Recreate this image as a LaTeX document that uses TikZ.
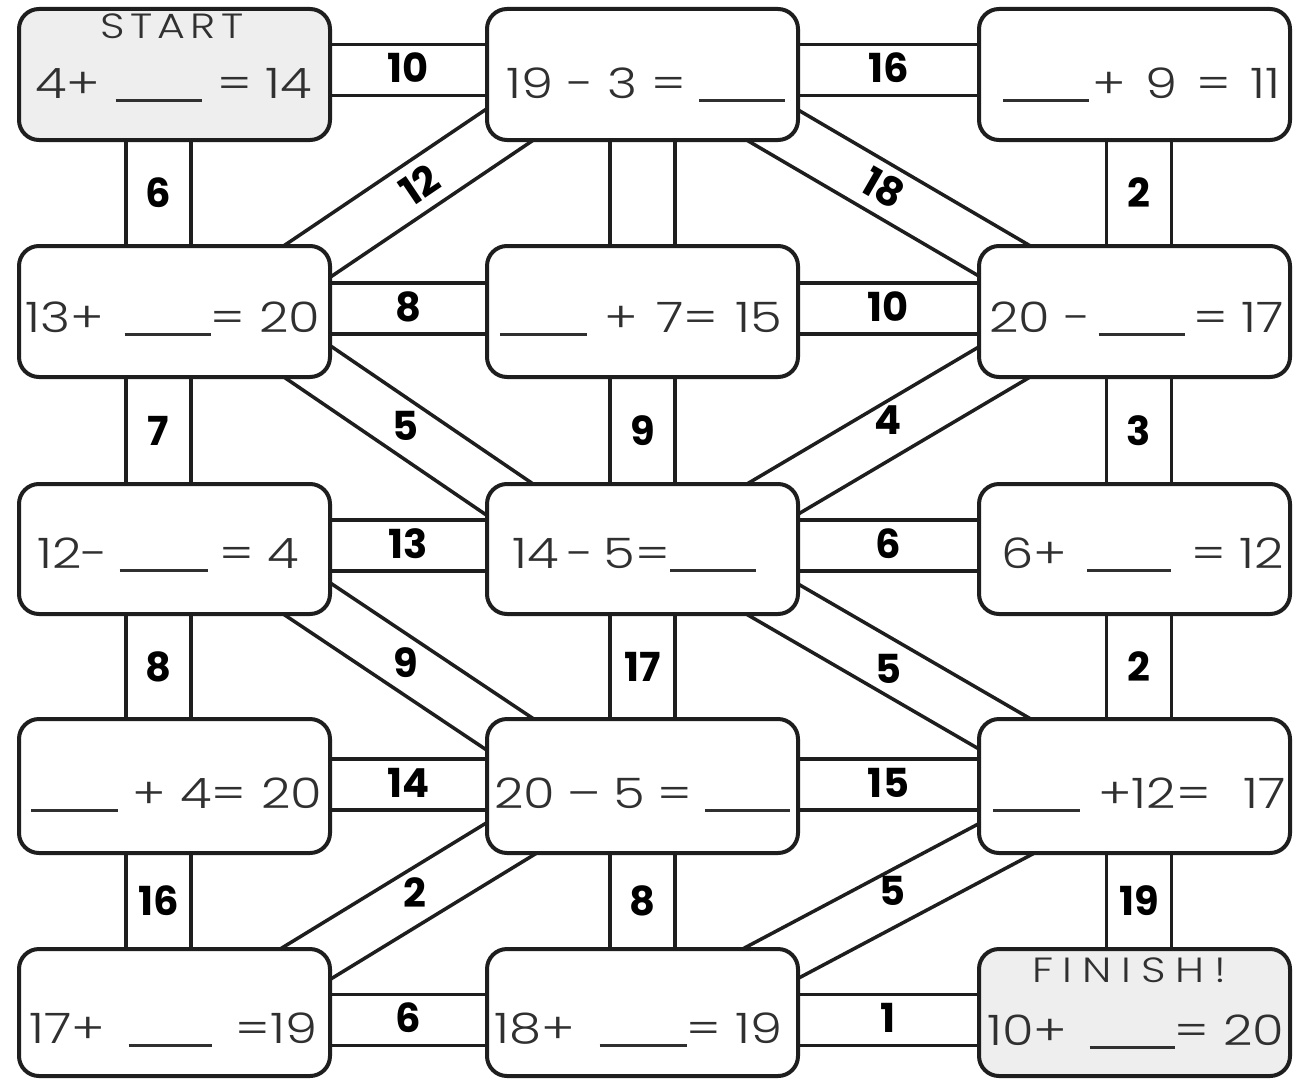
\documentclass[tikz,border=0pt]{standalone}
\usepackage{fontspec}
\setmainfont{Poppins}
\IfFontExistsTF{Poppins Light}{\newfontfamily\eqfont{Poppins Light}[FakeStretch=1.22]}{\newfontfamily\eqfont{Poppins}[FakeStretch=1.22]}
\usetikzlibrary{calc,backgrounds}
\definecolor{ink}{HTML}{1E1E1E}
\definecolor{txt}{HTML}{303030}
\definecolor{shade}{HTML}{EEEEEE}
\newcommand\gap[1]{\rule[-4pt]{#1pt}{2.6pt}}
\tikzset{
 box/.style={draw=ink, line width=4pt, rounded corners=20pt, fill=white, minimum width=311pt, inner sep=0pt, outer sep=0pt},
 endbox/.style={box, fill=shade},
 rail/.style={draw=ink, line width=3.5pt},
 num/.style={font=\fontsize{40}{40}\selectfont\bfseries, text=black, inner sep=0pt},
 eq/.style={font=\eqfont\fontsize{42}{42}\selectfont, text=txt, inner sep=0pt, anchor=base west},
 tag/.style={font=\eqfont\fontsize{35}{35}\selectfont, text=txt, inner sep=0pt},
}
\newcommand\hlane[5]{%
  \draw[rail] ($(#1.east)+(-30,#3-25.5)$) -- ($(#2.west)+(30,#3-25.5)$);
  \draw[rail] ($(#1.east)+(-30,#3+25.5)$) -- ($(#2.west)+(30,#3+25.5)$);
  \node[num] (#4) at ($(#1.east)!.5!(#2.west)+(0,#3-2)$) {#5};}
\newcommand\vlanebare[3]{%
  \draw[rail] ($(#1.south)+(#3-32.5,-30)$) -- ($(#2.north)+(#3-32.5,30)$);
  \draw[rail] ($(#1.south)+(#3+32.5,-30)$) -- ($(#2.north)+(#3+32.5,30)$);}
\newcommand\vlane[5]{%
  \vlanebare{#1}{#2}{#3}%
  \node[num] (#4) at ($(#1.south)!.5!(#2.north)+(#3,0)$) {#5};}
\newcommand\dlane[6]{%
  \path ($(#1)!26pt!90:(#2)$) coordinate (#3a) ($(#2)!26pt!-90:(#1)$) coordinate (#3b)
        ($(#1)!26pt!-90:(#2)$) coordinate (#3c) ($(#2)!26pt!90:(#1)$) coordinate (#3d);
  \draw[rail] ($(#3a)!-80pt!(#3b)$) -- ($(#3b)!-80pt!(#3a)$);
  \draw[rail] ($(#3c)!-80pt!(#3d)$) -- ($(#3d)!-80pt!(#3c)$);
  \node[num, rotate=#4] (#3) at ($(#1)!.5!(#2)+(#6)$) {#5};}
\begin{document}
\begin{tikzpicture}[x=1pt,y=-1pt]
\useasboundingbox (0,0) rectangle (1297,1081);
% boxes
\node[endbox, minimum height=131pt] (b11) at (174.5,74.5) {};
\node[box, minimum height=131pt] (b12) at (642.5,74.5) {};
\node[box, minimum height=131pt] (b13) at (1134.5,74.5) {};
\node[box, minimum height=131pt] (b21) at (174.5,311.5) {};
\node[box, minimum height=131pt] (b22) at (642.5,311.5) {};
\node[box, minimum height=131pt] (b23) at (1134.5,311.5) {};
\node[box, minimum height=130pt] (b31) at (174.5,549) {};
\node[box, minimum height=130pt] (b32) at (642.5,549) {};
\node[box, minimum height=130pt] (b33) at (1134.5,549) {};
\node[box, minimum height=134pt] (b41) at (174.5,786) {};
\node[box, minimum height=134pt] (b42) at (642.5,786) {};
\node[box, minimum height=134pt] (b43) at (1134.5,786) {};
\node[box, minimum height=127pt] (b51) at (174.5,1012.5) {};
\node[box, minimum height=127pt] (b52) at (642.5,1012.5) {};
\node[endbox, minimum height=127pt] (b53) at (1134.5,1012.5) {};
\begin{scope}[on background layer]
\fill[white] (0,0) rectangle (1297,1081);
\hlane{b11}{b12}{-4.5}{n1}{10}
\hlane{b12}{b13}{-4.5}{n2}{16}
\hlane{b21}{b22}{-3}{n3}{8}
\hlane{b22}{b23}{-3}{n4}{10}
\hlane{b31}{b32}{-3.5}{n5}{13}
\hlane{b32}{b33}{-3.5}{n6}{6}
\hlane{b41}{b42}{-1.5}{n7}{14}
\hlane{b42}{b43}{-1.5}{n8}{15}
\hlane{b51}{b52}{7.5}{n9}{6}
\hlane{b52}{b53}{7.5}{n10}{1}
\vlane{b11}{b21}{-16}{n11}{6}
\vlanebare{b12}{b22}{0}
\vlane{b13}{b23}{4.5}{n12}{2}
\vlane{b21}{b31}{-16}{n13}{7}
\vlane{b22}{b32}{0}{n14}{9}
\vlane{b23}{b33}{4.5}{n15}{3}
\vlane{b31}{b41}{-16}{n16}{8}
\vlane{b32}{b42}{0}{n17}{17}
\vlane{b33}{b43}{4.5}{n18}{2}
\vlane{b41}{b51}{-16}{n19}{16}
\vlane{b42}{b52}{0}{n20}{8}
\vlane{b43}{b53}{4.5}{n21}{19}
\dlane{b21.north east}{b12.south west}{n22}{34}{12}{11,-8}
\dlane{b12.south east}{b23.north west}{n23}{-30}{18}{-5,-5}
\dlane{b21.south east}{b32.north west}{n24}{0}{5}{-3,-5}
\dlane{b23.south west}{b32.north east}{n25}{0}{4}{0,-10}
\dlane{b31.south east}{b42.north west}{n26}{0}{9}{-3,-4}
\dlane{b32.south east}{b43.north west}{n27}{0}{5}{0,2}
\dlane{b42.south west}{b51.north east}{n28}{0}{2}{6,-8}
\dlane{b43.south west}{b52.north east}{n29}{0}{5}{4,-10}
\end{scope}
% texts
\node[tag] (s1) at (172,26) {\addfontfeature{LetterSpace=15}START};
\node[tag] (s2) at (1129,970) {\addfontfeature{LetterSpace=28}FINISH!};
\node[eq] (e11) at (35,98) {\makebox[277pt][s]{4+\hfill\gap{86}\hfill= 14}};
\node[eq] (e12) at (506,98) {\makebox[279pt][s]{19 - 3 =\hfill\gap{86}}};
\node[eq] (e13) at (1003,98) {\makebox[277pt][s]{\gap{86}\hskip 3pt+ 9 = 11}};
\node[eq] (e21) at (25,332) {\makebox[295pt][s]{13+\hfill\gap{86}= 20}};
\node[eq] (e22) at (500,332) {\makebox[282pt][s]{\gap{87} + 7= 15}};
\node[eq] (e23) at (989,332) {\makebox[295pt][s]{20 -\hskip 8pt\gap{86}\hfill= 17}};
\node[eq] (e31) at (37,568) {\makebox[262pt][s]{12-\hfill\gap{88}\hfill= 4}};
\node[eq] (e32) at (512,568) {\makebox[243pt][s]{14 - 5=\gap{86}}};
\node[eq] (e33) at (1001,568) {\makebox[283pt][s]{6+\hfill\gap{84}\hfill= 12}};
\node[eq] (e41) at (31,808) {\makebox[291pt][s]{\gap{87}\hskip 14pt+ 4= 20}};
\node[eq] (e42) at (494,808) {\makebox[296pt][s]{20 – 5 = \gap{85}}};
\node[eq] (e43) at (993,808) {\makebox[293pt][s]{\gap{87}\hskip 18pt+12= 17}};
\node[eq] (e51) at (29,1043) {\makebox[288pt][s]{17+\hfill\gap{83}\hfill=19}};
\node[eq] (e52) at (494,1043) {\makebox[288pt][s]{18+\hfill\gap{87}= 19}};
\node[eq] (e53) at (987,1045) {\makebox[297pt][s]{10+\hfill\gap{85}= 20}};
\end{tikzpicture}
\end{document}
